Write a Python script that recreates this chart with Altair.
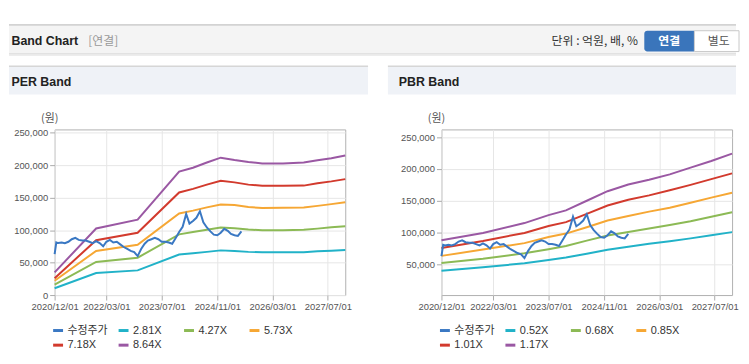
import altair as alt
import pandas as pd

# ---------------- data (values in won, x = months after 2020/12/01) ----------------
price_month = [0, 0.5] + list(range(1, 55))
price_value = [63000, 81000, 80000, 81000, 80000, 82000, 86000, 88000, 85000, 84000,
               84000, 82000, 80000, 83000, 80000, 75000, 82000, 85000, 81000, 82000,
               78000, 74000, 71000, 68000, 66000, 60000, 71000, 79000, 84000, 86000,
               88000, 86000, 82000, 82000, 81000, 79000, 88000, 97000, 105000, 125000,
               110000, 114000, 119000, 129000, 112000, 104000, 98000, 93000, 92000, 96000,
               102000, 99000, 94000, 92000, 91000, 98000]

per_month = [0, 12, 24, 36, 40, 44, 48, 52, 56, 60, 66, 72, 76, 80, 84]
per_281 = [10500, 34000, 38000, 62500, 64500, 66500, 68800, 68000, 66500, 65800, 65800, 66000, 67300, 68300, 69300]
per_427 = [16000, 51000, 57500, 93500, 97000, 100500, 104000, 103000, 101000, 99800, 99800, 100500, 102300, 104300, 106000]
per_573 = [22000, 68000, 77500, 125500, 130000, 135000, 139500, 138500, 135500, 134000, 134300, 134800, 137300, 140000, 142800]
per_718 = [26000, 84500, 96000, 158000, 163500, 170000, 176000, 173500, 170000, 168300, 168300, 168500, 172000, 175000, 178500]
per_864 = [35000, 102500, 116000, 190000, 196000, 204000, 211500, 208000, 205000, 202500, 202500, 204000, 207500, 210500, 215000]

pbr_month = [0, 12, 24, 31, 36, 42, 48, 54, 60, 66, 72, 78, 84]
pbr_052 = [40000, 45500, 52000, 57000, 61000, 67000, 73000, 78000, 82500, 86500, 91000, 96000, 100800]
pbr_068 = [52500, 59000, 67500, 74000, 79000, 87500, 95500, 101000, 106500, 112000, 118000, 125000, 132000]
pbr_085 = [63500, 73500, 83500, 93000, 98500, 108500, 119000, 126000, 133000, 139000, 147000, 155000, 162500]
pbr_101 = [76000, 87000, 99500, 110500, 116500, 129500, 142500, 151500, 158500, 166500, 175000, 184000, 193000]
pbr_117 = [88000, 99500, 115000, 127500, 135000, 150000, 165000, 175500, 183000, 191500, 202000, 212500, 224000]

per_names = ["수정주가", "2.81X", "4.27X", "5.73X", "7.18X", "8.64X"]
pbr_names = ["수정주가", "0.52X", "0.68X", "0.85X", "1.01X", "1.17X"]
colors = ["#3a78c3", "#21b2c8", "#8cba55", "#f6a734", "#d23a2d", "#9a58a3"]
x_ticks = ["2020-12-01", "2022-03-01", "2023-07-01", "2024-11-01", "2026-03-01", "2027-07-01"]
x_domain = ["2020-12-01", "2027-12-01"]
per_y_ticks = [0, 50000, 100000, 150000, 200000, 250000]
pbr_y_ticks = [50000, 100000, 150000, 200000, 250000]
per_y_domain = [0, 255000]
pbr_y_domain = [2000, 262000]

KFONT = "Noto Sans CJK KR"
LFONT = "Liberation Sans"
W, H = 293, 167


def to_date(m):
    whole = int(m)
    y = 2020 + (11 + whole) // 12
    mo = (11 + whole) % 12 + 1
    d = 1 + int(round((m - whole) * 30))
    return f"{y:04d}-{mo:02d}-{d:02d}"


def dt(s):
    y, m, d = map(int, s.split("-"))
    return alt.DateTime(year=y, month=m, date=d, utc=True)


one = pd.DataFrame({"k": [0]})


def rect(x, x2, y, y2, fill, **kw):
    return alt.Chart(one).mark_rect(fill=fill, **kw).encode(
        x=alt.value(x), x2=alt.value(x2), y=alt.value(y), y2=alt.value(y2))


def label(s, x, y, size=12, color="#333", weight="normal", align="left", font=KFONT):
    return alt.Chart(one).mark_text(text=s, fontSize=size, color=color, fontWeight=weight,
                                    align=align, baseline="middle", font=font).encode(
        x=alt.value(x), y=alt.value(y))


def panel(names, band_month, bands, ydomain, yticks, decor):
    rows = []
    for name, vals in zip(names[1:], bands):
        for m, v in zip(band_month, vals):
            rows.append({"date": to_date(m), "value": v, "series": name})
    band_df = pd.DataFrame(rows)
    price_df = pd.DataFrame({"date": [to_date(m) for m in price_month],
                             "value": price_value, "series": names[0]})
    xenc = alt.X("date:T",
                 scale=alt.Scale(type="utc", domain=[dt(s) for s in x_domain], nice=False),
                 axis=alt.Axis(values=[dt(s) for s in x_ticks], format="%Y/%m/%d",
                               labelFlush=False, labelOverlap=False, title=None,
                               labelPadding=2))
    yenc = alt.Y("value:Q", scale=alt.Scale(domain=ydomain, nice=False, zero=False),
                 axis=alt.Axis(values=yticks, format=",.0f", title=None, labelPadding=2))
    cenc = alt.Color("series:N", scale=alt.Scale(domain=names, range=colors),
                     legend=alt.Legend(orient="none", legendX=-3, legendY=196, title=None,
                                       direction="horizontal", columns=4, gridAlign="all",
                                       symbolType="stroke", symbolSize=100,
                                       symbolStrokeWidth=3, labelFont=LFONT + ", " + KFONT,
                                       labelFontSize=11, labelColor="#333", labelOffset=3,
                                       columnPadding=4, rowPadding=2, padding=0))
    bl = alt.Chart(band_df).mark_line(strokeWidth=2).encode(x=xenc, y=yenc, color=cenc)
    pl = alt.Chart(price_df).mark_line(strokeWidth=2).encode(x=xenc, y=yenc, color=cenc)
    unit = label("(원)", -5, -10, size=11, color="#555", align="center")
    return alt.layer(*decor, unit, bl, pl).properties(width=W, height=H)


# decorations of the left panel (origin at plot top-left)
left_decor = [
    rect(-46, 687, -106, -104.5, "#c4c4c4"),
    rect(-46, 687, -104.5, -76, "#f4f4f4"),
    rect(-46, 687, -76.5, -75.5, "#cfcfcf"),
    rect(-46, 687, -75.5, -74, "#ededed"),
    label("Band Chart", -43.5, -89, size=12.5, color="#222", weight="bold", font=LFONT),
    label("[연결]", 34, -89, size=12, color="#999"),
    label("단위 : 억원, 배, %", 588, -89, size=12, color="#333", align="right"),
    rect(594.5, 645, -99.5, -78.5, "#3a75bb", cornerRadiusTopLeft=3, cornerRadiusBottomLeft=3),
    rect(645, 690, -99.5, -78.5, "#ffffff", stroke="#c8c8c8", strokeWidth=1),
    label("연결", 619.7, -89, size=12, color="#ffffff", weight="bold", align="center"),
    label("별도", 669.5, -89, size=12, color="#555", align="center"),
    rect(-46, 316, -64.5, -63, "#d6d6d6"),
    rect(-46, 316, -63, -35.3, "#eff2f7"),
    label("PER Band", -43.5, -47.5, size=12.5, color="#222", weight="bold", font=LFONT),
]
right_decor = [
    rect(-54, 297, -64.5, -63, "#d6d6d6"),
    rect(-54, 297, -63, -35.3, "#eff2f7"),
    label("PBR Band", -43, -47.5, size=12.5, color="#222", weight="bold", font=LFONT),
]

left = panel(per_names, per_month, [per_281, per_427, per_573, per_718, per_864],
             per_y_domain, per_y_ticks, left_decor)
right = panel(pbr_names, pbr_month, [pbr_052, pbr_068, pbr_085, pbr_101, pbr_117],
              pbr_y_domain, pbr_y_ticks, right_decor)

chart = (
    alt.hconcat(left, right, spacing=97, bounds="flush")
    .resolve_scale(x="independent", y="independent", color="independent")
    .resolve_legend(color="independent")
    .properties(padding={"left": 0, "top": 14, "right": 1, "bottom": 0})
    .configure_view(stroke="#b0b0b0", strokeWidth=1)
    .configure_axis(labelFont=LFONT, labelFontSize=9.5, labelColor="#555",
                    gridColor="#e6e6e6", gridWidth=1, tickColor="#aaaaaa", tickSize=5,
                    domain=False)
)

chart.save("out.html", embed_options={"renderer": "svg", "actions": False})
